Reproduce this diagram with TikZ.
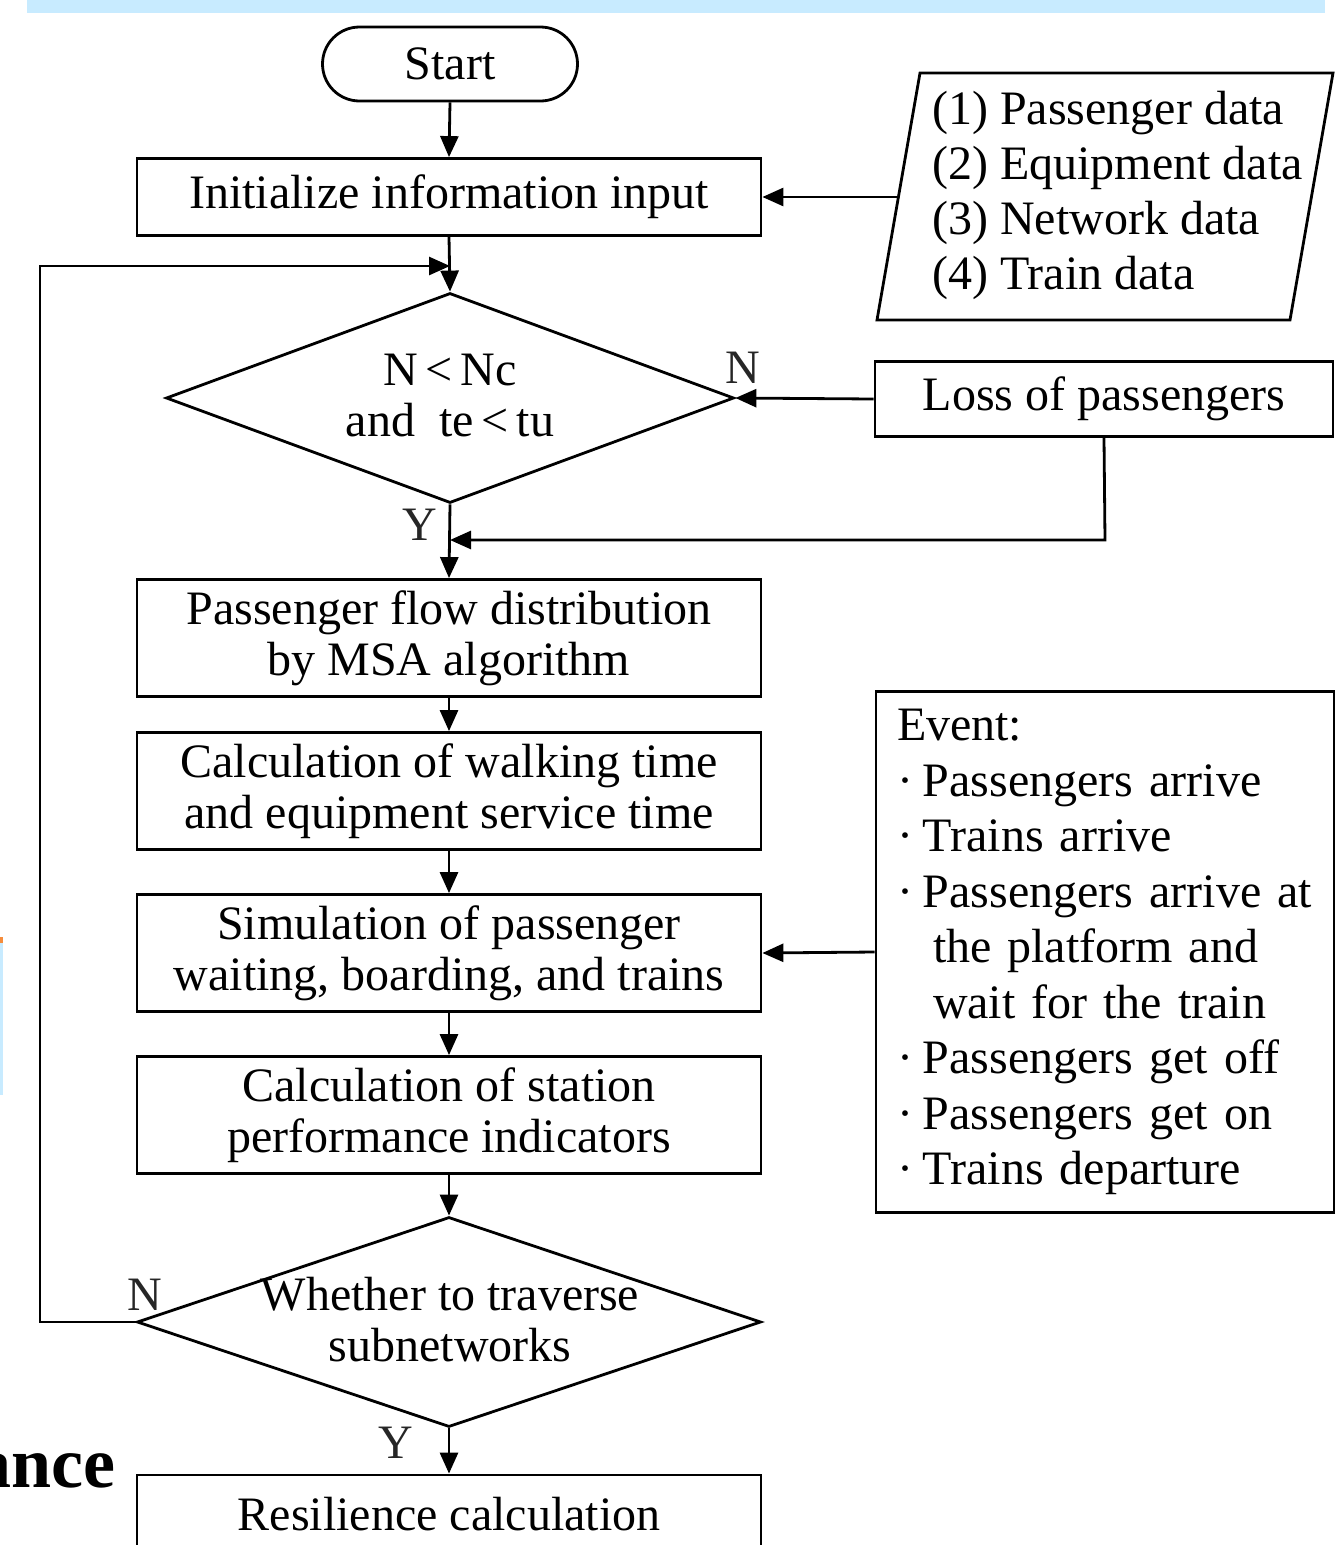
\documentclass[tikz,border=0pt]{standalone}
\usepackage{fontspec}
\setmainfont{Liberation Serif}
\usetikzlibrary{arrows.meta,shapes.geometric,calc}
\definecolor{banner}{RGB}{200,235,255}
\definecolor{orng}{RGB}{245,140,60}
\newcommand{\evdot}{\makebox[26pt][l]{·}}
\begin{document}
\begin{tikzpicture}[x=1pt,y=-1pt,
  every node/.style={font=\fontsize{48}{51}\selectfont},
  proc/.style={draw, line width=2.8pt, minimum width=624pt, inner sep=0pt, align=center},
  dia/.style={draw, line width=2.8pt, shape=diamond, inner sep=0pt},
  lbl/.style={inner sep=0pt, text=black!85},
  conn/.style={line width=2.8pt},
  arr/.style={line width=2.8pt, -{Triangle[length=21pt,width=18pt]}}]
\useasboundingbox (0,0) rectangle (1336,1545);
\clip (0,0) rectangle (1336,1545);
% screenshot remnants
\fill[banner] (27,0) rectangle (1325,13);
\fill[banner] (0,940) rectangle (3,1095);
\fill[orng] (0,937) rectangle (3,943);
\node[anchor=base east, inner sep=0pt, font=\fontsize{72}{76}\selectfont\bfseries] (ance) at (116,1487) {ance};

% start
\node[draw, line width=2.8pt, rounded corners=37pt, minimum width=255pt, minimum height=74pt, inner sep=0pt] (start) at (450,64) {Start};
% init
\node[proc, minimum height=77pt] (init) at (449,197) {Initialize information input};
% data parallelogram
\coordinate (p1) at (920,73);
\coordinate (p2) at (1333,73);
\coordinate (p3) at (1290,320);
\coordinate (p4) at (877,320);
\draw[line width=2.8pt] (p1) -- (p2) -- (p3) -- (p4) -- cycle;
\node[align=left, anchor=west, inner sep=0pt, font=\fontsize{48}{55}\selectfont] (data) at (932,195) {(1) Passenger data\\(2) Equipment data\\(3) Network data\\(4) Train data};
\coordinate (dataL) at (898,197);
% decision 1
\node[dia, minimum width=568pt, minimum height=210pt] (d1) at (450,398) {};
\node[align=center, inner sep=0pt] (d1t) at (450,396) {N\,<\,Nc\\and\ \ te\,<\,tu};
% loss
\node[draw, line width=2.8pt, minimum width=458pt, minimum height=75pt, inner sep=0pt] (loss) at (1104,399) {Loss of passengers};
% process boxes
\node[proc, minimum height=117pt] (b2) at (449,638) {Passenger flow distribution\\by MSA algorithm};
\node[proc, minimum height=117pt] (b3) at (449,791) {Calculation of walking time\\and equipment service time};
\node[proc, minimum height=117pt] (b4) at (449,953) {Simulation of passenger\\waiting, boarding, and trains};
\node[proc, minimum height=117pt] (b5) at (449,1115) {Calculation of station\\performance indicators};
% decision 2
\node[dia, minimum width=624pt, minimum height=210pt] (d2) at (449,1322) {};
\node[align=center, inner sep=0pt] (d2t) at (450,1320) {Whether to traverse\\subnetworks};
% final
\node[proc, minimum height=78pt] (fin) at (449,1514) {Resilience calculation};
% event box
\node[draw, line width=2.8pt, minimum width=458pt, minimum height=521pt, inner xsep=21pt, inner ysep=0pt, text width=416pt, align=left, font=\fontsize{48}{55.5}\selectfont] (ev) at (1105,952) {Event:\\
\evdot Passengers arrive\\
\evdot Trains arrive\\
\evdot Passengers arrive at\\
\hspace*{36pt}the platform and\\
\hspace*{36pt}wait for the train\\
\evdot Passengers get off\\
\evdot Passengers get on\\
\evdot Trains departure};

% labels
\node[lbl] (n1) at (743,368) {N};
\node[lbl] (y1) at (420,525) {Y};
\node[lbl] (n2) at (145,1295) {N};
\node[lbl] (y2) at (396,1443) {Y};

% connectors
\coordinate (loopL) at (40,1322);
\coordinate (loopT) at (40,266);
\coordinate (loopE) at (450,266);
\coordinate (lossD) at (1105,540);
\coordinate (lossE) at (450,540);
\draw[arr] (start.south) -- (init.north);
\draw[arr] (dataL) -- (init.east);
\draw[arr] (init.south) -- (d1.north);
\draw[conn] (d2.west) -- (loopL) -- (loopT) -- (430,266);
\draw[arr] (loopT) -- (loopE);
\draw[arr] (loss.west) -- (d1.east);
\draw[conn] (loss.south) -- (lossD) -- (470,540);
\draw[arr] (lossD) -- (lossE);
\draw[arr] (d1.south) -- (b2.north);
\draw[arr] (b2.south) -- (b3.north);
\draw[arr] (b3.south) -- (b4.north);
\draw[arr] (b4.south) -- (b5.north);
\draw[arr] (b5.south) -- (d2.north);
\draw[arr] (ev.west) -- (b4.east);
\draw[arr] (d2.south) -- (fin.north);
\end{tikzpicture}
\end{document}
